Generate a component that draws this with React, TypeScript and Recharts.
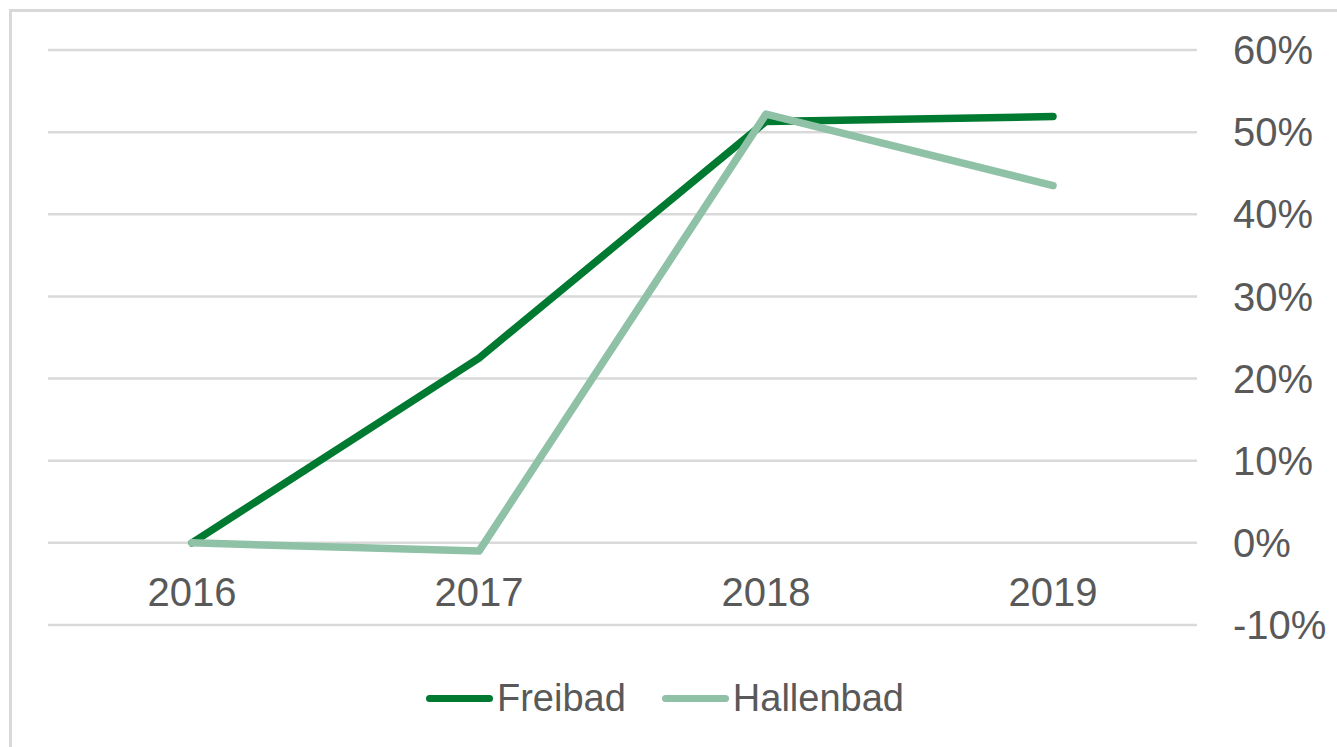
import { LineChart, Line, XAxis, YAxis, CartesianGrid } from 'recharts'

const years = ['2016', '2017', '2018', '2019']
const freibad = [0, 22.5, 51.3, 51.9]
const hallenbad = [0, -1.0, 52.2, 43.5]
const yTicks = [-10, 0, 10, 20, 30, 40, 50, 60]

const FONT = '"Liberation Sans", Arial, sans-serif'
const TEXT = '#595959'
const DARK = '#007a30'
const LIGHT = '#8fc1a6'

const data = years.map((y, i) => ({ year: y, Freibad: freibad[i], Hallenbad: hallenbad[i] }))

const XTick = (props: any) => {
  const { x, y, payload } = props
  return (
    <text x={x} y={y - 33} dy="0.355em" textAnchor="middle" fill={TEXT} fontSize={40} fontFamily={FONT}>
      {payload.value}
    </text>
  )
}

const legendItems = [
  { name: 'Freibad', color: DARK },
  { name: 'Hallenbad', color: LIGHT },
]

const App = () => {
  return (
    <div style={{ position: 'absolute', left: 0, top: 0, width: 1337, height: 747, overflow: 'hidden', background: '#fff' }}>
      <div
        style={{
          position: 'absolute',
          left: 9,
          top: 9,
          width: 1400,
          height: 800,
          border: '3px solid #d9d9d9',
        }}
      />
      <div style={{ position: 'absolute', left: 0, top: 0 }}>
        <LineChart width={1337} height={747} data={data} margin={{ top: 50, right: 0, left: 48, bottom: 92 }}>
          <CartesianGrid vertical={false} stroke="#d9d9d9" strokeWidth={2.5} />
          <XAxis
            dataKey="year"
            padding={{ left: 144, right: 144 }}
            axisLine={false}
            tickLine={false}
            tickSize={0}
            tickMargin={0}
            height={30}
            tick={<XTick />}
          />
          <YAxis
            orientation="right"
            width={140}
            domain={[-10, 60]}
            ticks={yTicks}
            axisLine={false}
            tickLine={false}
            tickSize={0}
            tickMargin={36}
            tickFormatter={(v: number) => `${v}%`}
            tick={{ fill: TEXT, fontSize: 40, fontFamily: FONT }}
          />
          <Line
            dataKey="Freibad"
            type="linear"
            stroke={DARK}
            strokeWidth={7.5}
            strokeLinecap="round"
            strokeLinejoin="round"
            dot={false}
            isAnimationActive={false}
          />
          <Line
            dataKey="Hallenbad"
            type="linear"
            stroke={LIGHT}
            strokeWidth={7.5}
            strokeLinecap="round"
            strokeLinejoin="round"
            dot={false}
            isAnimationActive={false}
          />
        </LineChart>
      </div>
      <div
        style={{
          position: 'absolute',
          left: 426,
          top: 674,
          display: 'flex',
          alignItems: 'center',
          fontFamily: FONT,
          fontSize: 38,
          color: TEXT,
          lineHeight: '48px',
        }}
      >
        {legendItems.map((it, i) => (
          <div key={it.name} style={{ display: 'flex', alignItems: 'center', marginLeft: i === 0 ? 0 : 36 }}>
            <div style={{ width: 67, height: 7, borderRadius: 4, background: it.color, marginRight: 4 }} />
            <span>{it.name}</span>
          </div>
        ))}
      </div>
    </div>
  )
}

export default App
